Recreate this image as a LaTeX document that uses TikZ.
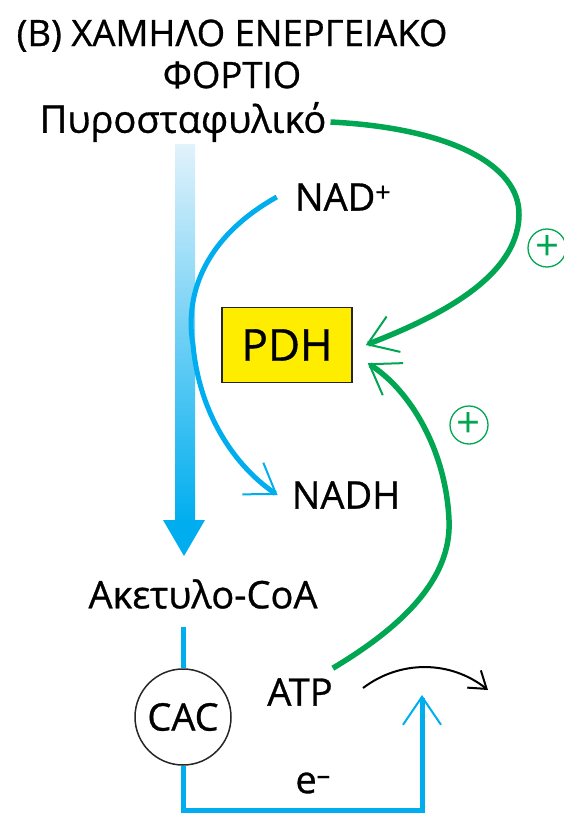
\documentclass[tikz,border=0pt]{standalone}
\usepackage{fontspec}
\setmainfont{Open Sans}[FakeBold=0.8]
\usepackage{xcolor}
\usepackage{tikz}
\usetikzlibrary{arrows.meta, positioning}

\definecolor{mycyan}{RGB}{0,174,239}
\definecolor{mypale}{RGB}{225,242,251}
\definecolor{mygreen}{RGB}{0,166,81}
\definecolor{myyellow}{RGB}{255,237,0}

\tikzset{
    lbl/.style={inner sep=4pt, font=\fontsize{38}{42}\selectfont},
    pdhbox/.style={draw=black!85, line width=1.5pt, fill=myyellow,
        minimum width=130pt, minimum height=75pt, font=\fontsize{44}{48}\selectfont},
    cacnode/.style={circle, draw=black!85, line width=1.5pt, minimum size=96pt,
        inner sep=0pt, font=\fontsize{38}{42}\selectfont},
    plusnode/.style={circle, draw=mygreen, line width=1.3pt, text=mygreen,
        minimum size=38pt, inner sep=0pt, font=\fontsize{42}{44}\selectfont},
    barb/.tip={Straight Barb[length=28pt, width=38pt, line width=2pt]},
    greenarrow/.style={draw=mygreen, line width=5.5pt, -barb},
    bluearrow/.style={draw=mycyan, line width=5pt, -barb},
}

\begin{document}
\begin{tikzpicture}[x=1pt, y=-1pt]

    \useasboundingbox (0,0) rectangle (564,813);

    % =================================================================
    % 1. CÁC NHÃN VÀ HỘP PDH
    % =================================================================
    \node[lbl, align=center, font=\fontsize{36.5}{42}\selectfont] (title) at (232,54)
        {(B) ΧΑΜΗΛΟ ΕΝΕΡΓΕΙΑΚΟ\\ΦΟΡΤΙΟ};
    \node[lbl] (pyr) at (183,122) {Πυροσταφυλικό};
    \node[lbl] (nad) at (343,197) {NAD\textsuperscript{+}};
    \node[pdhbox] (pdh) at (287,345) {PDH};
    \node[lbl] (nadh) at (346,495) {NADH};
    \node[lbl] (acoa) at (203,594) {Ακετυλο-CoA};
    \node[cacnode] (cac) at (183,717) {CAC};
    \node[lbl] (atp) at (300,692) {ATP};
    \node[lbl] (elec) at (313,783) {e\textsuperscript{–}};

    % Dấu cộng (hoạt hóa)
    \node[plusnode] (plus1) at (547,248) {\fontspec{Open Sans}+};
    \node[plusnode] (plus2) at (469,425) {\fontspec{Open Sans}+};

    % =================================================================
    % 2. MŨI TÊN DỌC TÔ CHUYỂN MÀU
    % =================================================================
    \shade[top color=mypale, bottom color=mycyan] (175,145) rectangle (195,522);
    \fill[mycyan] (163,520) -- (205,520) -- (184,556) -- cycle;

    % =================================================================
    % 3. CÁC MŨI TÊN CONG
    % =================================================================
    % Πυροσταφυλικό -> PDH
    \draw[greenarrow] (pyr.east) .. controls (450,128) and (520,165) .. (519,215)
        .. controls (518,280) and (430,320) .. ([xshift=13pt]pdh.east);

    % ATP -> PDH
    \draw[greenarrow] ([xshift=-4pt, yshift=6pt]atp.north east)
        .. controls (400,628) and (452,580) .. (449,520)
        .. controls (446,450) and (410,390) .. ([xshift=15pt, yshift=20pt]pdh.south east);

    % NAD+ -> NADH
    \draw[bluearrow] ([xshift=-14pt]nad.west) .. controls (200,240) and (185,300) .. (193,345)
        .. controls (200,420) and (240,470) .. ([xshift=-10pt]nadh.west);

    % Ακετυλο-CoA -> CAC -> e-
    \coordinate (cacin) at (183,627);
    \coordinate (etip) at (422,695);
    \draw[mycyan, line width=5pt] (cacin) -- (cac.north);
    \draw[bluearrow, line join=miter] (cac.south) -- (cac.south |- 0,810) -- (etip |- 0,810) -- (etip);

    % Mũi tên đen
    \coordinate (arcs) at (363,688);
    \coordinate (arce) at (488,690);
    \draw[line width=2pt, -{Straight Barb[length=16pt, width=22pt]}]
        (arcs) .. controls (400,660) and (450,660) .. (arce);

\end{tikzpicture}
\end{document}
